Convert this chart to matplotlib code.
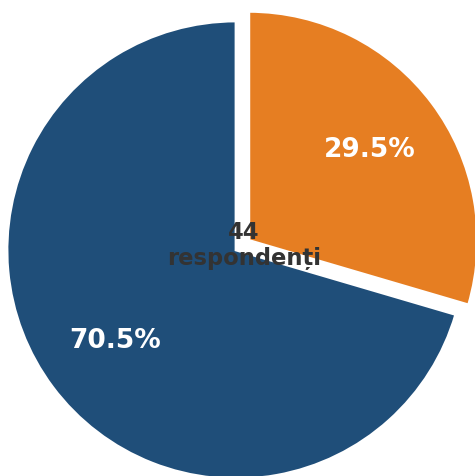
import matplotlib
matplotlib.use("Agg")
import matplotlib.pyplot as plt

# answers among 44 respondents
labels = ["Da", "Nu"]
counts = [13, 31]
colors = ["#e67e22", "#1f4e79"]
explode = [0.07, 0.0]
total = sum(counts)
center_text = "%d\nrespondenți" % total

fig = plt.figure(figsize=(4.75, 4.76), dpi=100)
ax = fig.add_axes([0, 0, 1, 1])

wedges, texts, autotexts = ax.pie(
    counts, colors=colors, explode=explode, startangle=90, counterclock=False,
    autopct="%1.1f%%", pctdistance=0.66,
    wedgeprops=dict(edgecolor="white", linewidth=2),
    textprops=dict(color="white", fontsize=19, fontweight="bold"))

ax.text(0.035, 0.02, center_text, ha="center", va="center",
        fontsize=16.3, fontweight="bold", color="#333333", linespacing=1.12)

r = 229
ax.set_xlim(-236 / r, (475 - 236) / r)
ax.set_ylim(-(476 - 250) / r, 250 / r)
ax.set_aspect("auto")
ax.axis("off")

fig.savefig("out.png", dpi=100)
